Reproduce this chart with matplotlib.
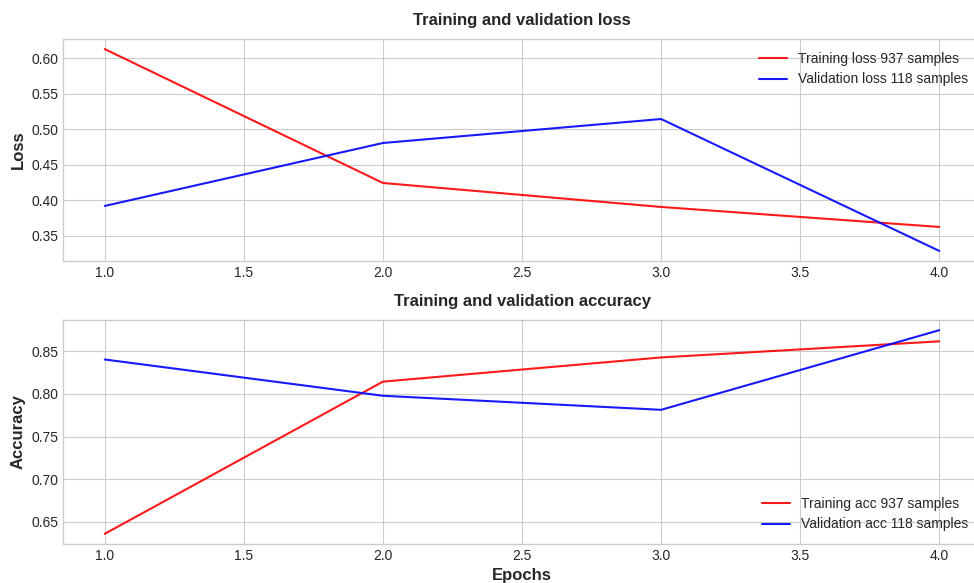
import matplotlib.pyplot as plt

plt.style.use("seaborn-v0_8-whitegrid")
plt.rcParams["font.family"] = ["Liberation Sans", "DejaVu Sans"]

epochs = [1, 2, 3, 4]
train_loss = [0.6126, 0.4244, 0.3907, 0.3626]
val_loss = [0.3921, 0.4806, 0.5143, 0.3289]
train_acc = [0.6358, 0.8145, 0.8429, 0.8618]
val_acc = [0.8405, 0.7979, 0.7814, 0.8749]

fig = plt.figure(figsize=(9.74, 5.83), dpi=100)
ax1 = fig.add_axes([0.0647, 0.5523, 0.9425, 0.3808])
ax2 = fig.add_axes([0.0647, 0.0669, 0.9425, 0.3842])

ax1.plot(epochs, train_loss, "r", label="Training loss 937 samples", alpha=0.9)
ax1.plot(epochs, val_loss, "b", label="Validation loss 118 samples", alpha=0.9)
ax1.set_title("Training and validation loss", fontsize=12, fontweight="bold", pad=10)
ax1.set_ylabel("Loss", fontsize=12, fontweight="bold")
ax1.legend(loc="upper right", fontsize=10)

ax2.plot(epochs, train_acc, "r", label="Training acc 937 samples", alpha=0.9)
ax2.plot(epochs, val_acc, "b", label="Validation acc 118 samples", alpha=0.9)
ax2.set_title("Training and validation accuracy", fontsize=12, fontweight="bold", pad=10)
ax2.set_ylabel("Accuracy", fontsize=12, fontweight="bold")
ax2.set_xlabel("Epochs", fontsize=12, fontweight="bold")
ax2.legend(loc="lower right", fontsize=10)

for ax in (ax1, ax2):
    ax.tick_params(labelsize=10)

fig.savefig("out.png", dpi=100)
